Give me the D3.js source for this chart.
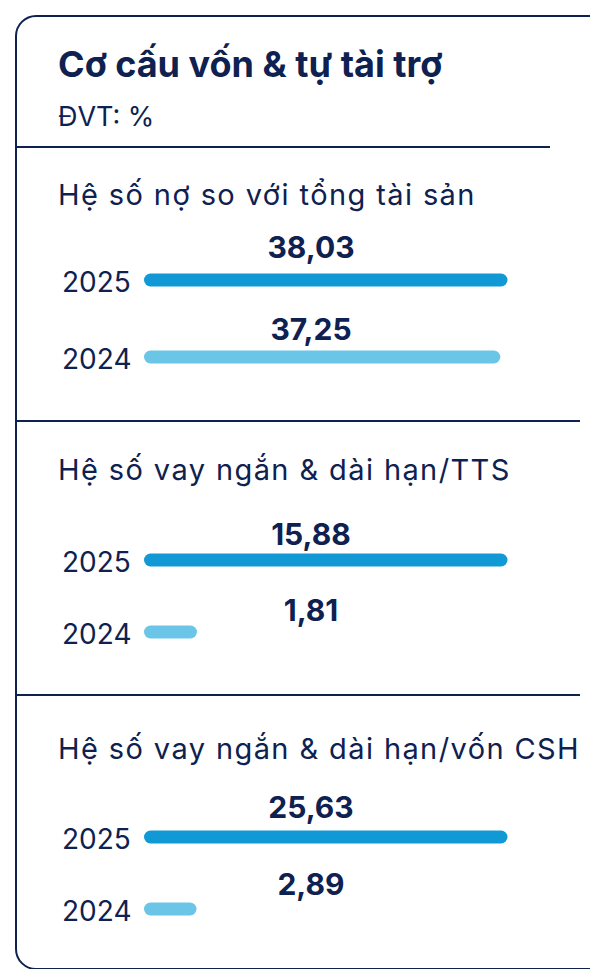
<!DOCTYPE html>
<meta charset="utf-8">
<script src="https://d3js.org/d3.v7.min.js"></script>
<style>
body {
    margin: 0;
    background: #fff;
}
text {
    fill: #0e2150;
    font-family: Inter, "Noto Sans", sans-serif;
}
</style>
<body>
<div id="chart"></div>
<script>
// data
var title = 'Cơ cấu vốn & tự tài trợ';
var unit = 'ĐVT: %';
var panels = ['Hệ số nợ so với tổng tài sản', 'Hệ số vay ngắn & dài hạn/TTS', 'Hệ số vay ngắn & dài hạn/vốn CSH'];
var years = ['2025', '2024'];
var values2025 = [38.03, 15.88, 25.63];
var values2024 = [37.25, 1.81, 2.89];

var barColor = ['#1199d6', '#6ac5e6'];
var navy = '#0e2150';

var w = 590, h = 969;

// layout of each panel (offsets from its separator line)
var sepY = [147, 421, 695];
var sepEnd = [550, 580, 580];
var titleOffset = [58, 59, 64];
var barOffset = [[133, 210], [139, 211], [142, 214]];
var labelOffset = [[111, 193], [124, 200], [123, 200]];

var svg = d3.select('#chart')
    .append('svg')
    .attr('width', w)
    .attr('height', h)
    .style('display', 'block');

// card outline (cut off at right and bottom)
svg.append('rect')
    .attr('x', 16)
    .attr('y', 16)
    .attr('width', 600)
    .attr('height', 953)
    .attr('rx', 20)
    .attr('fill', 'none')
    .attr('stroke', navy)
    .attr('stroke-width', 2);

svg.append('text')
    .text(title)
    .attr('x', 58)
    .attr('y', 77)
    .style('font-size', '36px')
    .style('font-weight', 'bold');

svg.append('text')
    .text(unit)
    .attr('x', 58)
    .attr('y', 126)
    .style('font-size', '27px');

var fmt = function(v) { return d3.format('.2f')(v).replace('.', ','); };

for (var i=0; i<panels.length; i++) {
    var panelTop = sepY[i];
    svg.append('line')
        .attr('x1', 16)
        .attr('x2', sepEnd[i])
        .attr('y1', panelTop)
        .attr('y2', panelTop)
        .attr('stroke', navy)
        .attr('stroke-width', 2);

    svg.append('text')
        .text(panels[i])
        .attr('x', 58)
        .attr('y', panelTop + titleOffset[i])
        .style('font-size', '29px')
        .style('letter-spacing', '1.4px');

    var rows = [values2025[i], values2024[i]];

    // own scale for each panel
    var xscale = d3.scaleLinear()
        .domain([0, d3.max(rows)])
        .range([150.5, 501]);

    for (var j=0; j<rows.length; j++) {
        var by = panelTop + barOffset[i][j];

        svg.append('line')
            .attr('x1', xscale(0))
            .attr('x2', xscale(rows[j]))
            .attr('y1', by)
            .attr('y2', by)
            .attr('stroke', barColor[j])
            .attr('stroke-width', 13)
            .attr('stroke-linecap', 'round');

        svg.append('text')
            .text(years[j])
            .attr('x', 62)
            .attr('y', by + 12)
            .style('font-size', '28px');

        svg.append('text')
            .text(fmt(rows[j]))
            .attr('text-anchor', 'middle')
            .attr('x', 311)
            .attr('y', panelTop + labelOffset[i][j])
            .style('font-size', '30px')
            .style('font-weight', 'bold');
    }
}
</script>
</body>
</html>
